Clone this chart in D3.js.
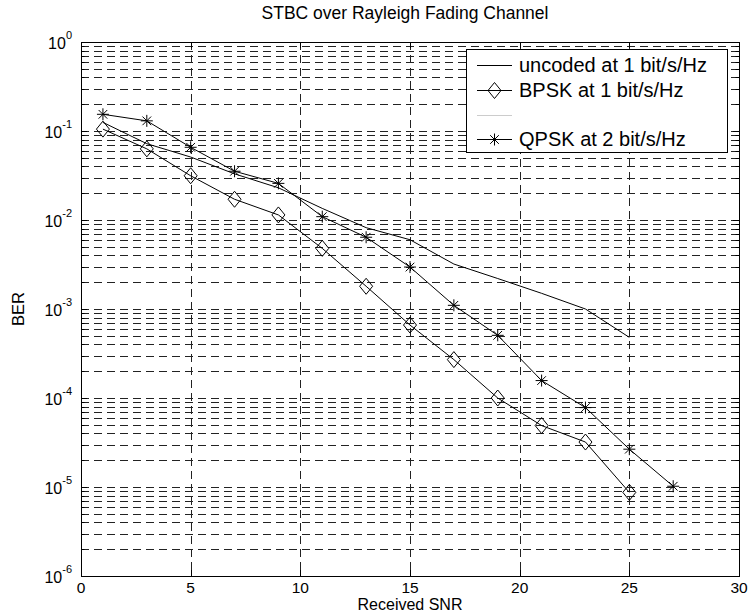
<!DOCTYPE html>
<html><head><meta charset="utf-8">
<script src="https://cdn.jsdelivr.net/npm/d3@7"></script>
<style>
body{margin:0;background:#fff}
svg{display:block}
text{font-family:Arial,"Liberation Sans",Helvetica,sans-serif;fill:#000}
</style>
</head><body>
<svg id="chart" width="749" height="613"></svg>
<script>
// ---- data ----
const snrBPSK = [1, 3, 5, 7, 9, 11, 13, 15, 17, 19, 21, 23, 25];
const berUncoded = [0.125, 0.072, 0.051, 0.033, 0.023, 0.0135, 0.0082, 0.0060, 0.0032, 0.0022, 0.0015, 0.0010, 0.00048];
const berBPSK = [0.105, 0.063, 0.0314, 0.0171, 0.0114, 0.0048, 0.0018, 0.00066, 0.00027, 0.00010, 0.000049, 0.000032, 0.0000087];
const snrQPSK = [1, 3, 5, 7, 9, 11, 13, 15, 17, 19, 21, 23, 25, 27];
const berQPSK = [0.154, 0.13, 0.0656, 0.0353, 0.0258, 0.0109, 0.0064, 0.00296, 0.0011, 0.000506, 0.000157, 0.000078, 0.0000266, 0.0000102];
const xTicks = [0, 5, 10, 15, 20, 25, 30];
const yTickExps = [0, -1, -2, -3, -4, -5, -6];
const legendLabels = ["uncoded at 1 bit/s/Hz", "BPSK at 1 bit/s/Hz", "", "QPSK at 2 bit/s/Hz"];
const titleText = "STBC over Rayleigh Fading Channel";
const xLabelText = "Received SNR";
const yLabelText = "BER";

// ---- layout ----
const m = {left: 81, right: 739, top: 42, bottom: 576};
const svg = d3.select("#chart");
const x = d3.scaleLinear().domain([0, 30]).range([m.left, m.right]);
const y = d3.scaleLog().domain([1e-6, 1]).range([m.bottom, m.top]);

const minorVals = [];
for (let e = -6; e < 0; e++) for (let k = 2; k <= 9; k++) minorVals.push(k * Math.pow(10, e));
const majorVals = yTickExps.map(e => Math.pow(10, e));

const gridColor = "#222";
const dash = "8,5";
const g = svg.append("g");

g.selectAll("line.hg").data(majorVals.concat(minorVals).filter(v => v < 1 && v > 1e-6))
  .join("line").attr("class","hg")
  .attr("x1", m.left).attr("x2", m.right)
  .attr("y1", d => Math.round(y(d)) + 0.5).attr("y2", d => Math.round(y(d)) + 0.5)
  .attr("stroke", gridColor).attr("stroke-width", 1).attr("stroke-dasharray", dash);
g.selectAll("line.vg").data(xTicks.filter(v => v > 0 && v < 30))
  .join("line").attr("class","vg")
  .attr("x1", d => Math.round(x(d)) + 0.5).attr("x2", d => Math.round(x(d)) + 0.5)
  .attr("y1", m.top).attr("y2", m.bottom)
  .attr("stroke", gridColor).attr("stroke-width", 1).attr("stroke-dasharray", dash);

const tl = 6, tlm = 3.5;
xTicks.forEach(v => {
  const px = Math.round(x(v)) + 0.5;
  g.append("line").attr("x1", px).attr("x2", px).attr("y1", m.bottom).attr("y2", m.bottom - tl).attr("stroke","#000");
  g.append("line").attr("x1", px).attr("x2", px).attr("y1", m.top).attr("y2", m.top + tl).attr("stroke","#000");
});
majorVals.forEach(v => {
  const py = Math.round(y(v)) + 0.5;
  g.append("line").attr("x1", m.left).attr("x2", m.left + tl).attr("y1", py).attr("y2", py).attr("stroke","#000");
  g.append("line").attr("x1", m.right).attr("x2", m.right - tl).attr("y1", py).attr("y2", py).attr("stroke","#000");
});
minorVals.forEach(v => {
  const py = Math.round(y(v)) + 0.5;
  g.append("line").attr("x1", m.left).attr("x2", m.left + tlm).attr("y1", py).attr("y2", py).attr("stroke","#000");
  g.append("line").attr("x1", m.right).attr("x2", m.right - tlm).attr("y1", py).attr("y2", py).attr("stroke","#000");
});

g.append("rect").attr("x", m.left + 0.5).attr("y", Math.round(m.top) + 0.5)
  .attr("width", m.right - m.left).attr("height", Math.round(m.bottom) - Math.round(m.top))
  .attr("fill","none").attr("stroke","#000").attr("stroke-width",1);

// x tick labels
svg.append("g").selectAll("text").data(xTicks).join("text")
  .attr("x", d => x(d)).attr("y", m.bottom + 17)
  .attr("text-anchor","middle").attr("font-size", 15.5).text(d => d);

// y tick labels 10^e
const yl = svg.append("g");
yTickExps.forEach(e => {
  const py = y(Math.pow(10, e));
  const t = yl.append("text").attr("x", 72).attr("y", py + 7).attr("text-anchor","end").attr("font-size", 16);
  t.append("tspan").text("10");
  t.append("tspan").attr("font-size", 11).attr("dy", -10).text(String(e));
});

// series
const line = d3.line().x(d => x(d[0])).y(d => y(d[1]));
const uncoded = snrBPSK.map((s, i) => [s, berUncoded[i]]);
const bpsk = snrBPSK.map((s, i) => [s, berBPSK[i]]);
const qpsk = snrQPSK.map((s, i) => [s, berQPSK[i]]);
const sg = svg.append("g");
[uncoded, bpsk, qpsk].forEach(d => {
  sg.append("path").datum(d).attr("d", line).attr("fill","none").attr("stroke","#000").attr("stroke-width",1);
});

function diamond(sel, cx, cy) {
  const hw = 6.5, hh = 8;
  sel.append("path").attr("d", `M${cx},${cy-hh}L${cx+hw},${cy}L${cx},${cy+hh}L${cx-hw},${cy}Z`)
    .attr("fill","none").attr("stroke","#000").attr("stroke-width",1);
}
function star(sel, cx, cy) {
  const r = 6, d = r * 0.72;
  sel.append("path").attr("d",
    `M${cx-r},${cy}L${cx+r},${cy}M${cx},${cy-r}L${cx},${cy+r}M${cx-d},${cy-d}L${cx+d},${cy+d}M${cx-d},${cy+d}L${cx+d},${cy-d}`)
    .attr("fill","none").attr("stroke","#000").attr("stroke-width",1);
}
bpsk.forEach(d => diamond(sg, x(d[0]), y(d[1])));
qpsk.forEach(d => star(sg, x(d[0]), y(d[1])));

// legend
const lg = svg.append("g");
const lx0 = 466, ly0 = 49.5, lw = 261, lh = 103;
lg.append("rect").attr("x", lx0 + 0.5).attr("y", ly0).attr("width", lw).attr("height", lh)
  .attr("fill","#fff").attr("stroke","#000").attr("stroke-width",1);
const rowY = [65, 90, 115, 139];
legendLabels.forEach((lab, i) => {
  const ry = rowY[i];
  lg.append("line").attr("x1", 477).attr("x2", 512).attr("y1", ry + 0.5).attr("y2", ry + 0.5)
    .attr("stroke", i === 2 ? "#ccc" : "#000").attr("stroke-width", 1);
  if (i === 1) diamond(lg, 494.5, ry + 0.5);
  if (i === 3) star(lg, 494.5, ry + 0.5);
  if (lab) lg.append("text").attr("x", 519).attr("y", ry + 7).attr("font-size", 20).text(lab);
});

// titles
svg.append("text").attr("x", 405).attr("y", 19).attr("text-anchor","middle").attr("font-size", 17.5).text(titleText);
svg.append("text").attr("x", (m.left + m.right) / 2).attr("y", 610).attr("text-anchor","middle").attr("font-size", 16).text(xLabelText);
svg.append("text").attr("transform", `translate(24,${(m.top + m.bottom) / 2}) rotate(-90)`).attr("text-anchor","middle").attr("font-size", 16.5).text(yLabelText);
</script>
</body></html>
